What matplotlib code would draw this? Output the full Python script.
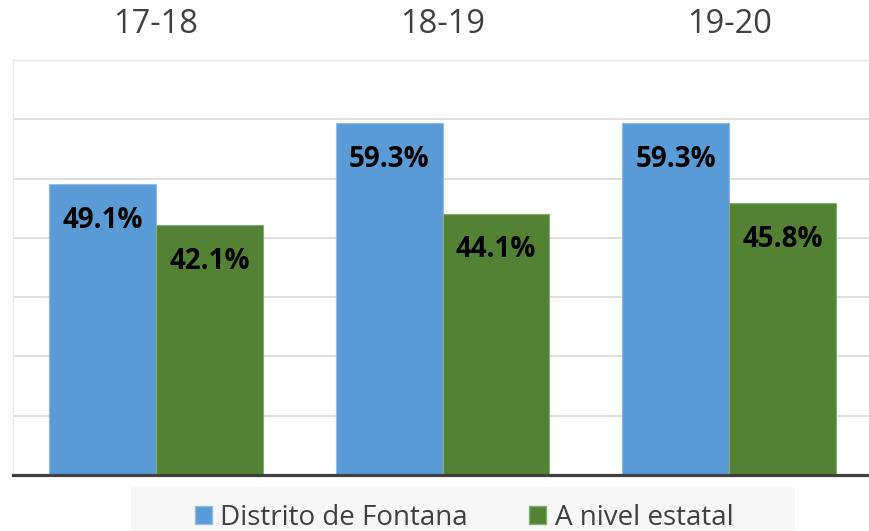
import matplotlib.pyplot as plt
import matplotlib.patches as mpatches
import numpy as np

plt.rcParams['font.family'] = ['Open Sans', 'DejaVu Sans']

years = ['17-18', '18-19', '19-20']
fontana = [49.1, 59.3, 59.3]
estatal = [42.1, 44.1, 45.8]
series_names = ['Distrito de Fontana', 'A nivel estatal']

blue = '#5B9BD5'
green = '#548235'
text_col = '#404040'

fig = plt.figure(figsize=(8.69, 5.31), dpi=100)
ax = fig.add_axes([12.5 / 869, 56 / 531, 860 / 869, 415 / 531])

x = np.arange(len(years))
w = 0.373
b1 = ax.bar(x - w / 2, fontana, w, color=blue, edgecolor='#8dbbe6', linewidth=0.8, zorder=3)
b2 = ax.bar(x + w / 2, estatal, w, color=green, edgecolor='#8aab72', linewidth=0.8, zorder=3)

for bars, vals in [(b1, fontana), (b2, estatal)]:
    for r, v in zip(bars, vals):
        ax.annotate(f'{v:.1f}%', (r.get_x() + r.get_width() / 2, v),
                    xytext=(0, -26), textcoords='offset points',
                    ha='center', va='center', fontsize=20, fontweight='bold',
                    color='black', zorder=4)

ax.set_xlim(-0.5, 2.5)
ax.set_ylim(0, 70)
ax.set_yticks(np.arange(10, 70, 10))
ax.yaxis.grid(True, color='#d9d9d9', linewidth=1.2, zorder=0)
ax.tick_params(axis='y', left=False, labelleft=False)

ax.set_xticks(x)
ax.set_xticklabels(years, fontsize=23.5, color=text_col)
ax.xaxis.tick_top()
ax.tick_params(axis='x', top=False, bottom=False, pad=10)

for s in ['top', 'left', 'right']:
    ax.spines[s].set_color('#e8e8e8')
    ax.spines[s].set_linewidth(1.0)
ax.spines['bottom'].set_color('#404040')
ax.spines['bottom'].set_linewidth(2.3)
ax.spines['bottom'].set_zorder(5)

# legend background band
fig.patches.append(mpatches.Rectangle((131 / 869, 0), (795 - 131) / 869, (531 - 487) / 531,
                                      transform=fig.transFigure, facecolor='#f7f7f7',
                                      edgecolor='none', zorder=0))
handles = [mpatches.Patch(facecolor=blue, edgecolor='#8dbbe6'),
           mpatches.Patch(facecolor=green, edgecolor='#8aab72')]
fig.legend(handles, series_names, loc='center', bbox_to_anchor=(464 / 869, 13 / 531),
           ncol=2, frameon=False, fontsize=20, labelcolor=text_col,
           handlelength=0.62, handleheight=0.62, handletextpad=0.3, columnspacing=2.2,
           borderaxespad=0)

fig.savefig('out.png', dpi=100)
